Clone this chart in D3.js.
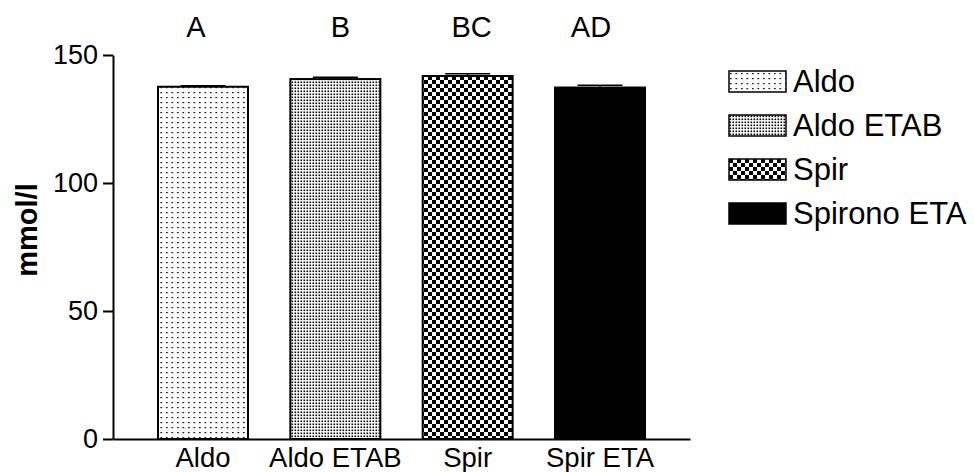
<!doctype html>
<html>
<head>
<style>
  body { margin: 0; background: #fff; }
  text { font-family: Arial, "Liberation Sans", sans-serif; fill: #000; }
</style>
<script src="https://d3js.org/d3.v7.min.js"></script>
</head>
<body>
<svg width="974" height="472"></svg>
<script>
// data
var groups = ["Aldo", "Aldo ETAB", "Spir", "Spir ETA"];
var legendNames = ["Aldo", "Aldo ETAB", "Spir", "Spirono ETA"];
var means = [137.6, 140.6, 141.8, 137.3];
var sems = [0.4, 0.7, 0.9, 0.9];
var letters = ["A", "B", "BC", "AD"];
var yTicks = [0, 50, 100, 150];

// layout
var letterNudge = [-7, 5, 4, -9];
var fills = ["url(#pDots)", "url(#pFine)", "url(#pCheck)", "#000"];

var svg = d3.select("svg");

// fill patterns
var defs = svg.append("defs");
var p1 = defs.append("pattern").attr("id", "pDots").attr("patternUnits", "userSpaceOnUse")
    .attr("width", 5.5).attr("height", 5);
p1.append("rect").attr("width", 5.5).attr("height", 5).attr("fill", "#fff");
p1.append("rect").attr("x", 1).attr("y", 2).attr("width", 1.6).attr("height", 1.2).attr("fill", "#000");

var p2 = defs.append("pattern").attr("id", "pFine").attr("patternUnits", "userSpaceOnUse")
    .attr("width", 3).attr("height", 3);
p2.append("rect").attr("width", 3).attr("height", 3).attr("fill", "#fff");
p2.append("rect").attr("x", 0.5).attr("y", 0.5).attr("width", 1.6).attr("height", 1.6).attr("fill", "#000");

var p3 = defs.append("pattern").attr("id", "pCheck").attr("patternUnits", "userSpaceOnUse")
    .attr("width", 8).attr("height", 8);
p3.append("rect").attr("width", 8).attr("height", 8).attr("fill", "#fff");
p3.append("rect").attr("width", 4).attr("height", 4).attr("fill", "#000");
p3.append("rect").attr("x", 4).attr("y", 4).attr("width", 4).attr("height", 4).attr("fill", "#000");

var x = d3.scaleBand().domain(groups).range([113, 690]).paddingInner(0.32).paddingOuter(0.34);
var y = d3.scaleLinear().domain([0, 150]).range([439, 55]);

// y axis
var yAxis = svg.append("g")
    .attr("transform", "translate(113,0)")
    .call(d3.axisLeft(y).tickValues(yTicks).tickSize(10).tickPadding(5).tickSizeOuter(0));
yAxis.selectAll("path, line").attr("stroke", "#000").attr("stroke-width", 2);
yAxis.selectAll("text").style("font-size", "27px").attr("fill", "#000");

// x axis
var xAxis = svg.append("g")
    .attr("transform", "translate(0,439)")
    .call(d3.axisBottom(x).tickSize(0).tickPadding(8).tickSizeOuter(0));
xAxis.select("path").attr("stroke", "#000").attr("stroke-width", 2);
xAxis.selectAll("text").style("font-size", "27.5px").attr("fill", "#000");

// bars
svg.selectAll(".bar")
    .data(groups)
    .enter().append("rect")
    .attr("class", "bar")
    .attr("x", function(d) { return x(d); })
    .attr("y", function(d, i) { return y(means[i]); })
    .attr("width", x.bandwidth())
    .attr("height", function(d, i) { return y(0) - y(means[i]); })
    .attr("fill", function(d, i) { return fills[i]; })
    .attr("stroke", "#000")
    .attr("stroke-width", 2);

// error bars (upper only)
var capW = 45;
var err = svg.selectAll(".err").data(groups).enter().append("g").attr("class", "err");
err.append("line")
    .attr("x1", function(d) { return x(d) + x.bandwidth() / 2; })
    .attr("x2", function(d) { return x(d) + x.bandwidth() / 2; })
    .attr("y1", function(d, i) { return y(means[i]); })
    .attr("y2", function(d, i) { return y(means[i] + sems[i]); })
    .attr("stroke", "#000").attr("stroke-width", 1.5);
err.append("line")
    .attr("x1", function(d) { return x(d) + x.bandwidth() / 2 - capW / 2; })
    .attr("x2", function(d) { return x(d) + x.bandwidth() / 2 + capW / 2; })
    .attr("y1", function(d, i) { return y(means[i] + sems[i]); })
    .attr("y2", function(d, i) { return y(means[i] + sems[i]); })
    .attr("stroke", "#000").attr("stroke-width", 1.5);

// significance letters
svg.selectAll(".sig").data(letters).enter().append("text")
    .attr("class", "sig")
    .attr("x", function(d, i) { return x(groups[i]) + x.bandwidth() / 2 + letterNudge[i]; })
    .attr("y", 37)
    .attr("text-anchor", "middle")
    .style("font-size", "29px")
    .text(function(d) { return d; });

// y label
svg.append("text")
    .attr("transform", "translate(37,230) rotate(-90)")
    .attr("text-anchor", "middle")
    .style("font-size", "29px")
    .style("font-weight", "bold")
    .text("mmol/l");

// legend
var leg = svg.selectAll(".leg").data(legendNames).enter().append("g")
    .attr("class", "leg")
    .attr("transform", function(d, i) { return "translate(729," + (71 + i * 44) + ")"; });
leg.append("rect")
    .attr("width", 57).attr("height", 21)
    .attr("fill", function(d, i) { return fills[i]; })
    .attr("stroke", "#000").attr("stroke-width", 1.5);
leg.append("text")
    .attr("x", 64).attr("y", 21)
    .style("font-size", "31px")
    .text(function(d) { return d; });
</script>
</body>
</html>
